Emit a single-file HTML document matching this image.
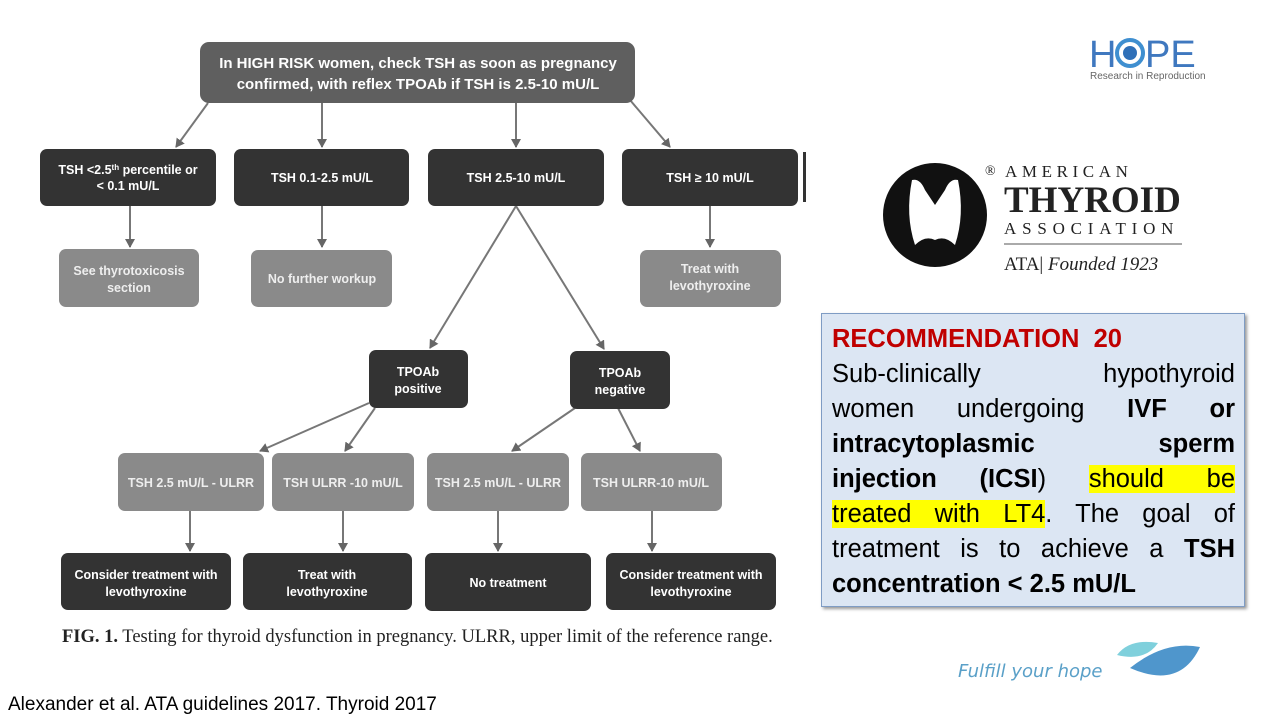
<!DOCTYPE html>
<html><head><meta charset="utf-8"><style>
body{margin:0;width:1280px;height:720px;background:#fff;position:relative;overflow:hidden;font-family:"Liberation Sans",sans-serif}
.rec{position:absolute;left:821px;top:313px;width:422px;height:292px;background:#dce6f3;border:1px solid #7f9cc4;box-shadow:2px 2px 3px #999}
.ln{position:absolute;left:10px;width:403px;font-size:25.5px;line-height:35px;text-align:justify;text-align-last:justify;color:#000;white-space:nowrap}
.hl{background:#ffff00}
b{font-weight:bold}
</style></head><body>
<svg width="1280" height="720" style="position:absolute;left:0;top:0" font-family="Liberation Sans, sans-serif">
<defs><marker id="a" markerWidth="10" markerHeight="10" refX="8" refY="5" orient="auto" markerUnits="userSpaceOnUse"><path d="M0,0 L9,5 L0,10 z" fill="#666"/></marker></defs>
<g stroke="#777" stroke-width="2" marker-end="url(#a)" fill="none">
<line x1="208" y1="103" x2="176" y2="147"/>
<line x1="322" y1="103" x2="322" y2="147"/>
<line x1="516" y1="103" x2="516" y2="147"/>
<line x1="630" y1="100" x2="670" y2="147"/>
<line x1="130" y1="206" x2="130" y2="247"/>
<line x1="322" y1="206" x2="322" y2="247"/>
<line x1="710" y1="206" x2="710" y2="247"/>
<line x1="516" y1="206" x2="430" y2="348"/>
<line x1="516" y1="206" x2="604" y2="349"/>
<line x1="369" y1="403" x2="260" y2="451"/>
<line x1="375" y1="408" x2="345" y2="451"/>
<line x1="575" y1="408" x2="512" y2="451"/>
<line x1="618" y1="408" x2="640" y2="451"/>
<line x1="190" y1="511" x2="190" y2="551"/>
<line x1="343" y1="511" x2="343" y2="551"/>
<line x1="498" y1="511" x2="498" y2="551"/>
<line x1="652" y1="511" x2="652" y2="551"/>
</g>
<rect x="200" y="42" width="435" height="61" rx="9" fill="#5f5f5f"/>
<g fill="#fff" font-weight="bold" font-size="15" text-anchor="middle">
<text x="418" y="68">In HIGH RISK women, check TSH as soon as pregnancy</text>
<text x="418" y="89">confirmed, with reflex TPOAb if TSH is 2.5-10 mU/L</text>
</g>
<g fill="#333">
<rect x="40" y="149" width="176" height="57" rx="7"/><rect x="234" y="149" width="175" height="57" rx="7"/>
<rect x="428" y="149" width="176" height="57" rx="7"/><rect x="622" y="149" width="176" height="57" rx="7"/>
<rect x="803" y="152" width="3" height="50"/>
<rect x="369" y="350" width="99" height="58" rx="7"/><rect x="570" y="351" width="100" height="58" rx="7"/>
<rect x="61" y="553" width="170" height="57" rx="7"/><rect x="243" y="553" width="169" height="57" rx="7"/>
<rect x="425" y="553" width="166" height="58" rx="7"/><rect x="606" y="553" width="170" height="57" rx="7"/>
</g>
<g fill="#8a8a8a">
<rect x="59" y="249" width="140" height="58" rx="7"/><rect x="251" y="250" width="141" height="57" rx="7"/>
<rect x="640" y="250" width="141" height="57" rx="7"/>
<rect x="118" y="453" width="146" height="58" rx="7"/><rect x="272" y="453" width="142" height="58" rx="7"/>
<rect x="427" y="453" width="142" height="58" rx="7"/><rect x="581" y="453" width="141" height="58" rx="7"/>
</g>
<g fill="#fff" font-weight="bold" font-size="12.5" text-anchor="middle">
<text x="128" y="174">TSH &lt;2.5<tspan font-size="8" dy="-4">th</tspan><tspan dy="4"> percentile or</tspan></text>
<text x="128" y="190">&lt; 0.1 mU/L</text>
<text x="322" y="182">TSH  0.1-2.5  mU/L</text>
<text x="516" y="182">TSH 2.5-10 mU/L</text>
<text x="710" y="182">TSH ≥ 10 mU/L</text>
<text x="129" y="275" fill="#eee">See thyrotoxicosis</text><text x="129" y="292" fill="#eee">section</text>
<text x="322" y="283" fill="#eee">No further workup</text>
<text x="710" y="273" fill="#eee">Treat with</text><text x="710" y="290" fill="#eee">levothyroxine</text>
<text x="418" y="376">TPOAb</text><text x="418" y="393">positive</text>
<text x="620" y="377">TPOAb</text><text x="620" y="394">negative</text>
<text x="191" y="487" fill="#eee">TSH 2.5 mU/L - ULRR</text>
<text x="343" y="487" fill="#eee">TSH ULRR -10 mU/L</text>
<text x="498" y="487" fill="#eee">TSH 2.5 mU/L - ULRR</text>
<text x="651" y="487" fill="#eee">TSH ULRR-10 mU/L</text>
<text x="146" y="579">Consider treatment with</text><text x="146" y="596">levothyroxine</text>
<text x="327" y="579">Treat with</text><text x="327" y="596">levothyroxine</text>
<text x="508" y="587">No treatment</text>
<text x="691" y="579">Consider treatment with</text><text x="691" y="596">levothyroxine</text>
</g>
<text x="62" y="642" font-family="Liberation Serif, serif" font-size="18.5" fill="#222"><tspan font-weight="bold">FIG. 1.</tspan>   Testing for thyroid dysfunction in pregnancy. ULRR, upper limit of the reference range.</text>
<text x="8" y="710" font-size="19" fill="#000">Alexander et al. ATA guidelines 2017. Thyroid 2017</text>
<!-- HOPE logo -->
<text x="1089" y="67" font-size="38" fill="#3f78bf">H</text>
<circle cx="1130" cy="53" r="13" fill="none" stroke="#3f8fd0" stroke-width="4"/><circle cx="1130" cy="53" r="7" fill="#2f70b8"/>
<text x="1145" y="67" font-size="38" fill="#3f78bf">PE</text>
<text x="1090" y="79" font-size="10" fill="#666">Research in Reproduction</text>
<!-- ATA logo -->
<circle cx="935" cy="215" r="52" fill="#111"/>
<path d="M912,180 Q920,178 925,190 L935,205 L945,190 Q950,178 958,180 Q965,215 955,245 Q945,235 935,240 Q925,235 915,245 Q905,215 912,180z" fill="#fff"/>
<text x="985" y="175" font-family="Liberation Serif, serif" font-size="14" fill="#222">®</text>
<text x="1005" y="177" font-family="Liberation Serif, serif" font-size="17" letter-spacing="4.6" fill="#222">AMERICAN</text>
<text x="1004" y="212" font-family="Liberation Serif, serif" font-size="37" font-weight="bold" fill="#222">THYROID</text>
<text x="1004" y="234" font-family="Liberation Serif, serif" font-size="17" letter-spacing="5.8" fill="#222">ASSOCIATION</text>
<line x1="1004" y1="244" x2="1182" y2="244" stroke="#555"/>
<text x="1004" y="270" font-family="Liberation Serif, serif" font-size="19" fill="#222">ATA| <tspan font-style="italic">Founded 1923</tspan></text>
<!-- Fulfill -->
<text x="958" y="677" font-family="DejaVu Sans, sans-serif" font-size="18" fill="#5aa0c8" font-style="italic">Fulfill your hope</text>
<path d="M1117,655 Q1130,638 1158,643 Q1145,662 1117,655z" fill="#7fd0dc"/>
<path d="M1130,668 Q1165,640 1200,647 Q1180,690 1130,668z" fill="#4f96cc"/>
</svg>
<div class="rec">
<div class="ln" style="top:8px;color:#c00000;font-weight:bold;text-align-last:left">RECOMMENDATION&nbsp; 20</div>
<div class="ln" style="top:43px">Sub-clinically hypothyroid</div>
<div class="ln" style="top:78px">women undergoing <b>IVF or</b></div>
<div class="ln" style="top:113px"><b>intracytoplasmic sperm</b></div>
<div class="ln" style="top:148px"><b>injection (ICSI</b>) <span class="hl">should be</span></div>
<div class="ln" style="top:183px"><span class="hl">treated with LT4</span>. The goal of</div>
<div class="ln" style="top:218px">treatment is to achieve a <b>TSH</b></div>
<div class="ln" style="top:253px;text-align-last:left"><b>concentration &lt; 2.5 mU/L</b></div>
</div>
</body></html>
